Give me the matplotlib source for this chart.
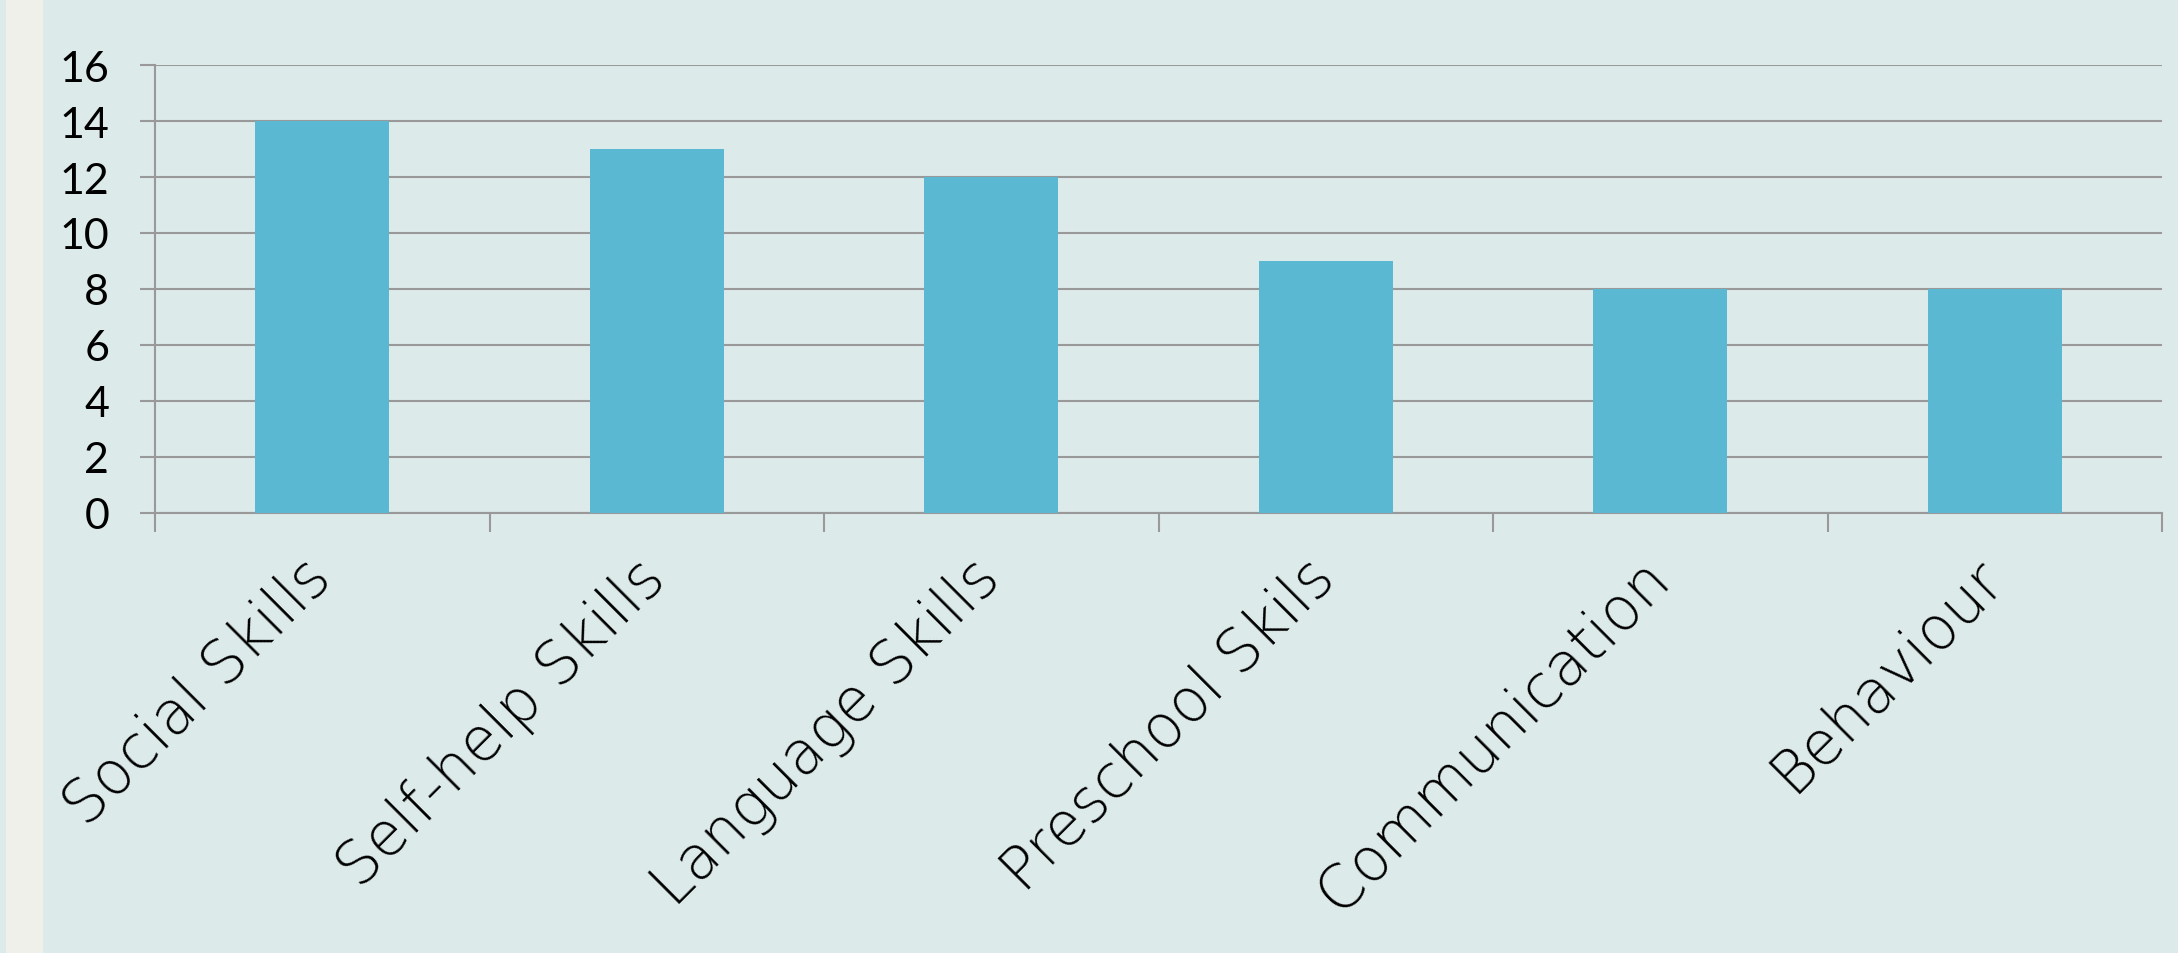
import numpy as np
import matplotlib.pyplot as plt
from matplotlib.patches import Rectangle

# data
categories = ['Social Skills', 'Self-help Skills', 'Language Skills',
              'Preschool Skils', 'Communication', 'Behaviour']
values = [14, 13, 12, 9, 8, 8]
yticks = [0, 2, 4, 6, 8, 10, 12, 14, 16]

bg = '#DCEAE9'
strip = '#EFF0E9'
barcol = '#5BB8D2'
gridcol = '#999999'

fig = plt.figure(figsize=(21.78, 9.54), dpi=100, facecolor=bg)
# light strip on the left edge
fig.patches.append(Rectangle((6 / 2178, 0), 37 / 2178, 1, transform=fig.transFigure,
                             facecolor=strip, edgecolor='none', zorder=0))

ax = fig.add_axes([155 / 2178, 1 - 514 / 954, (2162 - 155) / 2178, 448 / 954])
ax.set_facecolor(bg)

x = np.arange(len(categories))
ax.bar(x, values, width=0.4, color=barcol, zorder=3)

ax.set_xlim(-0.5, len(categories) - 0.5)
ax.set_ylim(0, 16)
ax.set_yticks(yticks)
ax.set_yticklabels([str(v) for v in yticks], fontsize=31, family='Lato')
ax.yaxis.grid(True, color=gridcol, linewidth=1.5, zorder=1)
ax.set_axisbelow(True)

# category labels
ax.set_xticks(x)
ax.set_xticklabels(categories, rotation=45, ha='right', va='center',
                   rotation_mode='anchor', fontsize=43, family='DejaVu Sans',
                   fontweight='light')
ax.tick_params(axis='x', which='major', length=0, pad=40)
# boundary ticks
ax.set_xticks(np.arange(-0.5, len(categories), 1.0), minor=True)
ax.tick_params(axis='x', which='minor', length=14, width=1.5, color=gridcol)
ax.tick_params(axis='y', length=11, width=1.5, color=gridcol, pad=22)

for s in ['top', 'right']:
    ax.spines[s].set_visible(False)
for s in ['left', 'bottom']:
    ax.spines[s].set_color(gridcol)
    ax.spines[s].set_linewidth(1.5)

fig.savefig('out.png', dpi=100, facecolor=bg)
